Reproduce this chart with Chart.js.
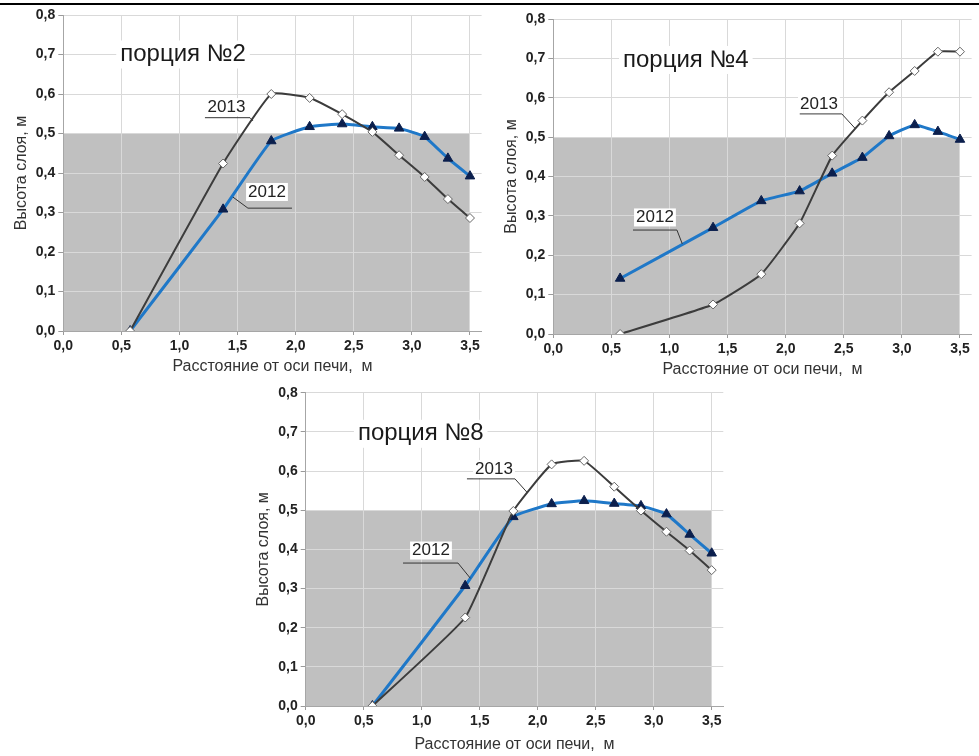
<!DOCTYPE html>
<html>
<head>
<meta charset="utf-8">
<script src="https://cdn.jsdelivr.net/npm/chart.js@4.4.0/dist/chart.umd.min.js"></script>
<style>
  body { margin: 0; background: #fff; }
  #page { position: relative; width: 979px; height: 756px; overflow: hidden; background: #fff; }
  .rule { position: absolute; left: 0; top: 3px; width: 979px; height: 2px; background: #000; }
  canvas { position: absolute; }
</style>
</head>
<body>
<div id="page">
  <div class="rule"></div>
  <canvas id="chart2" style="left:0;top:0" width="490" height="380"></canvas>
  <canvas id="chart4" style="left:490px;top:0" width="489" height="380"></canvas>
  <canvas id="chart8" style="left:240px;top:380px" width="490" height="376"></canvas>
</div>
<script>
// Distance from kiln axis, m (same measuring points for all portions)
const distance = [0.575, 1.375, 1.79, 2.12, 2.4, 2.66, 2.89, 3.11, 3.31, 3.5];

// Layer height, m
const portion2y2013 = [0, 0.424, 0.600, 0.590, 0.549, 0.504, 0.445, 0.390, 0.334, 0.286];
const portion2y2012 = [0, 0.308, 0.481, 0.517, 0.524, 0.517, 0.513, 0.492, 0.437, 0.392];
const portion4y2013 = [0, 0.075, 0.152, 0.281, 0.453, 0.542, 0.614, 0.668, 0.717, 0.717];
const portion4y2012 = [0.141, 0.270, 0.338, 0.363, 0.408, 0.448, 0.503, 0.531, 0.514, 0.494];
const portion8y2013 = [0, 0.226, 0.498, 0.617, 0.626, 0.560, 0.499, 0.445, 0.397, 0.347];
const portion8y2012 = [0, 0.307, 0.483, 0.516, 0.524, 0.517, 0.511, 0.490, 0.438, 0.390];

// Axis ticks
const xTickValues = [0, 0.5, 1, 1.5, 2, 2.5, 3, 3.5];
const yTickValues = [0, 0.1, 0.2, 0.3, 0.4, 0.5, 0.6, 0.7, 0.8];

// Grey band (x range, y range)
const shadeX = [0, 3.5];
const shadeY = [0, 0.5];

const fmt = v => v.toFixed(1).replace('.', ',');
const points = (xs, ys) => xs.map((x, i) => ({ x: x, y: ys[i] }));

// Grey band painted before the grid so grid lines stay visible on it
const shadePlugin = {
  id: 'shade',
  beforeDraw(chart) {
    const { ctx, scales: { x, y } } = chart;
    const l = x.getPixelForValue(shadeX[0]);
    const r = x.getPixelForValue(shadeX[1]);
    const t = y.getPixelForValue(shadeY[1]);
    const b = y.getPixelForValue(shadeY[0]);
    ctx.save();
    ctx.fillStyle = '#c0c0c0';
    ctx.fillRect(l, t, r - l, b - t);
    ctx.restore();
  }
};

// Title and the "2012"/"2013" callouts
function notesPlugin(title, notes) {
  return {
    id: 'notes',
    afterDraw(chart) {
      const { ctx, scales: { x, y } } = chart;
      ctx.save();
      ctx.textBaseline = 'middle';

      ctx.font = '24px "Liberation Sans", Arial, sans-serif';
      ctx.textAlign = 'left';
      const tx = x.getPixelForValue(title.x);
      const ty = y.getPixelForValue(title.y);
      const tw = ctx.measureText(title.text).width;
      ctx.fillStyle = '#fff';
      ctx.fillRect(tx - 4, ty - 14, tw + 8, 28);
      ctx.fillStyle = '#1a1a1a';
      ctx.fillText(title.text, tx, ty);

      notes.forEach(n => {
        ctx.strokeStyle = '#333';
        ctx.lineWidth = 1;
        ctx.beginPath();
        n.path.forEach((p, i) => {
          const px = x.getPixelForValue(p[0]);
          const py = y.getPixelForValue(p[1]);
          if (i === 0) ctx.moveTo(px, py); else ctx.lineTo(px, py);
        });
        ctx.stroke();

        ctx.font = '17px "Liberation Sans", Arial, sans-serif';
        ctx.textAlign = 'center';
        const cx = x.getPixelForValue(n.x);
        const cy = y.getPixelForValue(n.y);
        const w = ctx.measureText(n.text).width;
        ctx.fillStyle = '#fff';
        ctx.fillRect(cx - w / 2 - 2, cy - 9, w + 4, 18);
        ctx.fillStyle = '#222';
        ctx.fillText(n.text, cx, cy);
      });
      ctx.restore();
    }
  };
}

// Function to create one panel
function createPortionChart(canvasId, y2013, y2012, title, notes, box) {
  const ctx = document.getElementById(canvasId).getContext('2d');
  const tickFont = { family: '"Liberation Sans Narrow", "Arial Narrow", sans-serif', size: 14, weight: 'bold' };
  const titleFont = { family: '"Liberation Sans", Arial, sans-serif', size: 16 };
  return new Chart(ctx, {
    type: 'line',
    data: {
      datasets: [{
        label: '2013',
        data: points(distance, y2013),
        borderColor: '#3c3c3c',
        borderWidth: 2,
        tension: 0.12,
        pointStyle: 'rectRot',
        pointRadius: 4.5,
        pointBackgroundColor: '#fff',
        pointBorderColor: '#666',
        pointBorderWidth: 1
      }, {
        label: '2012',
        data: points(distance, y2012),
        borderColor: '#1f78c8',
        borderWidth: 3,
        tension: 0.12,
        pointStyle: 'triangle',
        pointRadius: 5.5,
        pointBackgroundColor: '#0b1f4d',
        pointBorderColor: '#0b1f4d',
        pointBorderWidth: 1
      }]
    },
    options: {
      responsive: false,
      animation: false,
      layout: {
        padding: { top: box.top, right: box.right, bottom: 0, left: 0 }
      },
      plugins: {
        legend: { display: false },
        tooltip: { enabled: false }
      },
      scales: {
        x: {
          type: 'linear',
          min: 0,
          max: 3.6,
          afterFit: s => { s.height = box.xHeight; },
          afterBuildTicks: s => { s.ticks = xTickValues.map(v => ({ value: v })); },
          ticks: {
            includeBounds: false,
            padding: 3,
            color: '#222',
            font: tickFont,
            callback: v => fmt(v)
          },
          grid: { color: '#d9d9d9', tickColor: '#9a9a9a', tickLength: 4 },
          border: { color: '#a6a6a6' },
          title: {
            display: true,
            text: 'Расстояние от оси печи,  м',
            color: '#333',
            font: titleFont,
            padding: { top: 0, bottom: box.xTitlePad }
          }
        },
        y: {
          min: 0,
          max: 0.8,
          afterFit: s => { s.width = box.yWidth; },
          afterBuildTicks: s => { s.ticks = yTickValues.map(v => ({ value: v })); },
          ticks: {
            padding: 3,
            color: '#222',
            font: tickFont,
            callback: v => fmt(v)
          },
          grid: { color: '#d9d9d9', tickColor: '#9a9a9a', tickLength: 5 },
          border: { color: '#a6a6a6' },
          title: {
            display: true,
            text: 'Высота слоя, м',
            color: '#333',
            font: titleFont,
            padding: { top: box.yTitlePad, bottom: 0 }
          }
        }
      }
    },
    plugins: [shadePlugin, notesPlugin(title, notes)]
  });
}

createPortionChart('chart2', portion2y2013, portion2y2012,
  { text: 'порция №2', x: 0.49, y: 0.70 },
  [
    { text: '2013', x: 1.404, y: 0.567, path: [[1.219, 0.540], [1.607, 0.540], [1.632, 0.532]] },
    { text: '2012', x: 1.753, y: 0.352, path: [[1.968, 0.311], [1.589, 0.311], [1.46, 0.339]] }
  ],
  { top: 15, right: 8.4, xHeight: 49, xTitlePad: 3.4, yWidth: 63.3, yTitlePad: 12.4 });

createPortionChart('chart4', portion4y2013, portion4y2012,
  { text: 'порция №4', x: 0.60, y: 0.696 },
  [
    { text: '2012', x: 0.875, y: 0.296, path: [[0.686, 0.264], [1.064, 0.264], [1.11, 0.229]] },
    { text: '2013', x: 2.286, y: 0.584, path: [[2.121, 0.559], [2.483, 0.559], [2.595, 0.523]] }
  ],
  { top: 19, right: 7.4, xHeight: 46, xTitlePad: 0.4, yWidth: 63.3, yTitlePad: 11.9 });

createPortionChart('chart8', portion8y2013, portion8y2012,
  { text: 'порция №8', x: 0.45, y: 0.695 },
  [
    { text: '2012', x: 1.080, y: 0.397, path: [[0.839, 0.365], [1.313, 0.365], [1.42, 0.326]] },
    { text: '2013', x: 1.623, y: 0.605, path: [[1.390, 0.580], [1.804, 0.580], [1.907, 0.546]] }
  ],
  { top: 12.7, right: 6.7, xHeight: 50, xTitlePad: 1.4, yWidth: 65.7, yTitlePad: 13.9 });
</script>
</body>
</html>
